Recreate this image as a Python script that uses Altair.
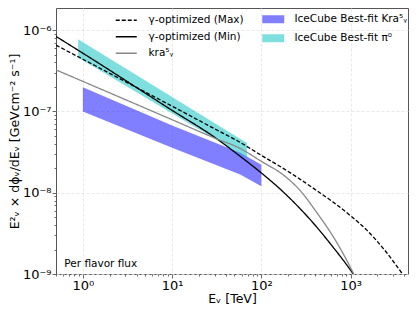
import altair as alt
import pandas as pd

# ---------------- data ----------------
series_names = ["γ-optimized (Max)", "γ-optimized (Min)", "kra⁵ᵧ"]

E_max = [0.5, 1, 3, 10, 30, 58, 100, 176, 273, 413, 640, 1000, 1528, 2343, 3765, 4400]
F_max = [6.53e-7, 4.38e-7, 2.32e-7, 1.16e-7, 6.1e-8, 4.15e-8, 2.88e-8, 1.99e-8,
         1.46e-8, 1.07e-8, 7.64e-9, 5.2e-9, 3.44e-9, 2.04e-9, 1.02e-9, 8.0e-10]

E_min = [0.5, 1, 10, 30, 58, 100, 178, 273, 420, 645, 835, 1080]
F_min = [8.36e-7, 5.2e-7, 1.03e-7, 4.8e-8, 2.8e-8, 1.75e-8, 1.01e-8, 6.33e-9,
         3.75e-9, 2.1e-9, 1.46e-9, 9.9e-10]

E_kra = [0.5, 1, 10, 30, 58, 100, 178, 273, 420, 645, 835, 1080]
F_kra = [3.24e-7, 2.34e-7, 7.9e-8, 4.7e-8, 3.5e-8, 2.43e-8, 1.64e-8, 1.06e-8,
         5.66e-9, 2.83e-9, 1.74e-9, 1.01e-9]

band_names = ["IceCube Best-fit Kra⁵ᵧ", "IceCube Best-fit π⁰"]
E_kraband = [1, 10, 58, 100]
hi_kraband = [1.98e-7, 6.7e-8, 3.09e-8, 2.2e-8]
lo_kraband = [1.0e-7, 3.56e-8, 1.67e-8, 1.2e-8]

E_pi = [0.885, 69]
hi_pi = [7.74e-7, 4.1e-8]
lo_pi = [4.6e-7, 2.68e-8]

note = "Per flavor flux"
note_E = [0.62]
note_F = [1.33e-9]

x_domain = [0.5, 4400]
y_domain = [1e-9, 1.87e-6]

# ---------------- tables ----------------
lines_df = pd.concat([
    pd.DataFrame({"E": E_max, "F": F_max, "series": series_names[0]}),
    pd.DataFrame({"E": E_min, "F": F_min, "series": series_names[1]}),
    pd.DataFrame({"E": E_kra, "F": F_kra, "series": series_names[2]}),
], ignore_index=True)

bands_df = pd.concat([
    pd.DataFrame({"E": E_kraband, "hi": hi_kraband, "lo": lo_kraband, "band": band_names[0]}),
    pd.DataFrame({"E": E_pi, "hi": hi_pi, "lo": lo_pi, "band": band_names[1]}),
], ignore_index=True)

note_df = pd.DataFrame({"E": note_E, "F": note_F, "txt": [note]})

# ---------------- axes ----------------
x_ticks = [m * 10 ** k for k in range(-1, 4) for m in range(1, 10)]
x_ticks = [v for v in x_ticks if x_domain[0] - 1e-9 <= v <= x_domain[1]]
y_ticks = [m * 10.0 ** k for k in range(-9, -5) for m in range(1, 10)]
y_ticks = [v for v in y_ticks if y_domain[0] * 0.999 <= v <= y_domain[1]]

DEC = "abs(log(datum.value)/LN10 - round(log(datum.value)/LN10)) < 1e-6"
sup = {"-9": "⁻⁹", "-8": "⁻⁸", "-7": "⁻⁷", "-6": "⁻⁶", "0": "⁰", "1": "¹", "2": "²", "3": "³"}


def label_expr(exps):
    parts = []
    for e in exps:
        parts.append(f"abs(log(datum.value)/LN10 - ({e})) < 1e-6 ? '10{sup[str(e)]}'")
    return " : ".join(parts) + " : ''"


FONT = "DejaVu Sans"

x_axis = alt.Axis(
    values=x_ticks, labelExpr=label_expr([0, 1, 2, 3]), title="Eᵥ [TeV]",
    tickSize={"condition": {"test": DEC, "value": 4}, "value": 2},
    gridOpacity={"condition": {"test": DEC, "value": 1}, "value": 0},
    labelOverlap=False, labelFlush=False, labelPadding=1, titlePadding=0,
)
y_axis = alt.Axis(
    values=y_ticks, labelExpr=label_expr([-9, -8, -7, -6]),
    title="E²ᵥ × dϕᵥ/dEᵥ [GeVcm⁻² s⁻¹]",
    tickSize={"condition": {"test": DEC, "value": 4}, "value": 2},
    gridOpacity={"condition": {"test": DEC, "value": 1}, "value": 0},
    labelOverlap=False, labelFlush=False, labelPadding=1, titlePadding=1,
)

xs = alt.Scale(type="log", domain=x_domain, nice=False)
ys = alt.Scale(type="log", domain=y_domain, nice=False)

bands = alt.Chart(bands_df).mark_area(opacity=0.5, clip=True).encode(
    x=alt.X("E:Q", scale=xs, axis=x_axis),
    y=alt.Y("hi:Q", scale=ys, axis=y_axis),
    y2="lo:Q",
    fill=alt.Fill("band:N", scale=alt.Scale(domain=band_names, range=["#0000ff", "#00bfbf"]),
                  legend=alt.Legend(orient="none", legendX=212, legendY=6, title=None,
                                    symbolType="M-2.75,-1H2.75V1H-2.75Z", symbolSize=64,
                                    symbolOpacity=0.5, symbolStrokeWidth=0,
                                    labelOffset=16, rowPadding=8, padding=0,
                                    labelFont=FONT, labelFontSize=10.5, labelColor="black")),
)

leg_lines = alt.Legend(orient="none", legendX=65, legendY=7, title=None,
                       symbolType="M-3,0H3", symbolSize=49, symbolStrokeWidth=1.3,
                       labelOffset=17, rowPadding=5.5, padding=0,
                       labelFont=FONT, labelFontSize=10.5, labelColor="black")

lines = alt.Chart(lines_df).mark_line(clip=True, interpolate="monotone", strokeWidth=1.3).encode(
    x=alt.X("E:Q", scale=xs),
    y=alt.Y("F:Q", scale=ys),
    stroke=alt.Stroke("series:N", scale=alt.Scale(domain=series_names, range=["black", "black", "#888888"]),
                      legend=leg_lines),
    strokeDash=alt.StrokeDash("series:N", scale=alt.Scale(domain=series_names, range=[[4, 2], [1, 0], [1, 0]]),
                              legend=leg_lines),
)

txt = alt.Chart(note_df).mark_text(align="left", baseline="middle", font=FONT, fontSize=10.5, color="black").encode(
    x=alt.X("E:Q", scale=xs), y=alt.Y("F:Q", scale=ys), text="txt:N")

chart = alt.layer(bands, lines, txt).properties(
    width=352, height=266,
    autosize=alt.AutoSizeParams(type="none"),
    padding={"left": 48, "top": 0, "right": 1, "bottom": 31},
).configure_view(stroke="#555555", strokeWidth=1).configure_axis(
    labelFont=FONT, labelFontSize=13, labelColor="black",
    titleFont=FONT, titleFontSize=12.5, titleFontWeight="normal", titleColor="black",
    domain=False, tickColor="#444444", tickWidth=0.8,
    gridColor="#e2e2e2", gridDash=[3, 2], gridWidth=0.8, zindex=1,
)

chart.save("out.html", embed_options={"renderer": "svg", "actions": False})
